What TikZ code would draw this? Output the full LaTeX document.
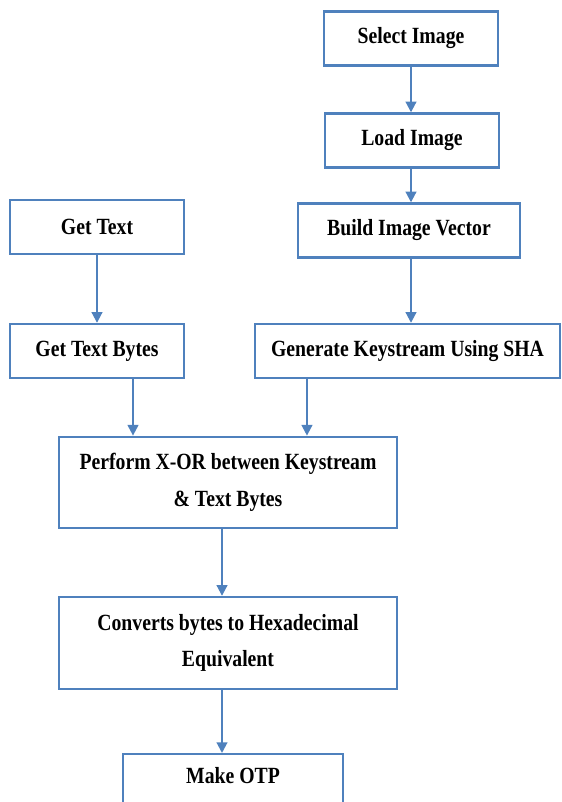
\documentclass[tikz,border=0pt]{standalone}
\usepackage{fontspec}
\setmainfont{Liberation Serif}[FakeStretch=0.85]
\usetikzlibrary{arrows.meta}
\definecolor{flowblue}{RGB}{79,129,189}
\begin{document}
\begin{tikzpicture}[x=0.75pt,y=-0.75pt,>={Triangle[width=8pt,length=8pt]},
  box/.style={draw=flowblue,line width=1.8pt,minimum height=40.5pt,inner sep=0pt,align=center,
    font=\bfseries\fontsize{17.4}{27.5}\selectfont},
  arr/.style={->,draw=flowblue,line width=1.5pt}]
\useasboundingbox (0,0) rectangle (561,802);
\clip (0,0) rectangle (561,802);
% image branch
\node[box,minimum width=130.5pt] (sel) at (411,38.5) {Select Image};
\node[box,minimum width=130.5pt] (load) at (412,140.5) {Load Image};
\node[box,minimum width=166.5pt] (vec) at (409,230.5) {Build Image Vector};
\node[box,minimum width=228.75pt] (key) at (407.5,351) {Generate Keystream Using SHA};
% text branch
\node[box,minimum width=130.5pt] (txt) at (97,227) {Get Text};
\node[box,minimum width=130.5pt] (bytes) at (97,351) {Get Text Bytes};
% merge
\node[box,minimum width=253.5pt,minimum height=68.5pt] (xor) at (228,482.5) {Perform X-OR between Keystream\\ \& Text Bytes};
\node[box,minimum width=253.5pt,minimum height=69pt] (hex) at (228,643) {Converts bytes to Hexadecimal\\ Equivalent};
\node[box,minimum width=165pt,inner ysep=10pt,text depth=60pt,anchor=north] (otp) at (233,753) {Make OTP};
\draw[arr] (sel) -- (sel |- load.north);
\draw[arr] (sel |- load.south) -- (sel |- vec.north);
\draw[arr] (sel |- vec.south) -- (sel |- key.north);
\draw[arr] (txt) -- (bytes);
\draw[arr] ([xshift=27pt]bytes.south) -- ([xshift=27pt]bytes.south |- xor.north);
\draw[arr] ([xshift=-75.4pt]key.south) -- ([xshift=-75.4pt]key.south |- xor.north);
\draw[arr] ([xshift=-4.5pt]xor.south) -- ([xshift=-4.5pt]xor.south |- hex.north);
\draw[arr] ([xshift=-4.5pt]hex.south) -- ([xshift=-4.5pt]hex.south |- otp.north);
\end{tikzpicture}
\end{document}
